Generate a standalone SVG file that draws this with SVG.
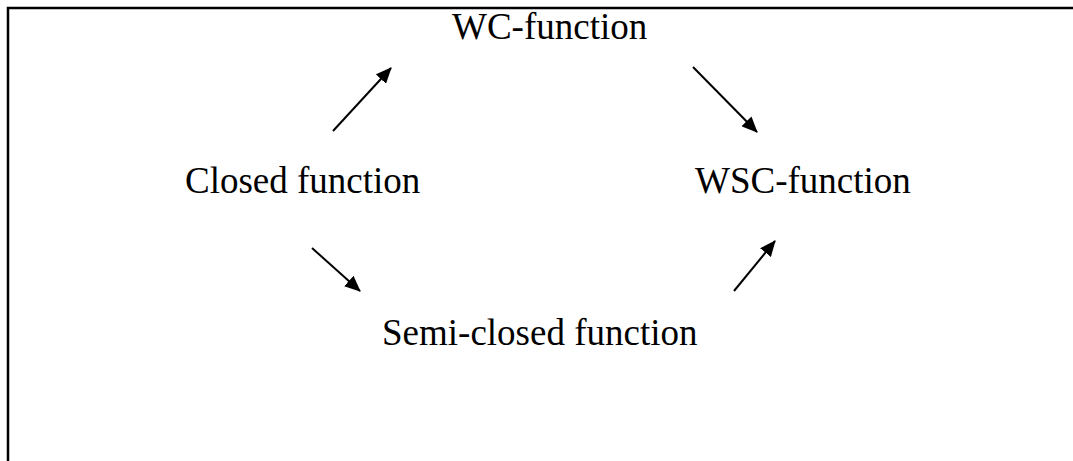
<svg xmlns="http://www.w3.org/2000/svg" width="1073" height="461" viewBox="0 0 1073 461">
<style>
.lbl{font-family:"Liberation Serif","Times New Roman",serif;font-size:37px;fill:#000}
.frame{fill:none;stroke:#000;stroke-width:2.5}
.edge{stroke:#000;stroke-width:2;fill:none}
</style>
<defs>
<marker id="ah" markerWidth="16" markerHeight="14" refX="15" refY="7" orient="auto" markerUnits="userSpaceOnUse">
<path d="M0,0 L16,7 L0,14 Z" fill="#000"/>
</marker>
</defs>
<rect width="1073" height="461" fill="#fff"/>
<path class="frame" d="M8,461 V8 H1073"/>
<g id="wc"><text class="lbl" x="452" y="39">WC-function</text></g>
<g id="closed"><text class="lbl" x="185" y="193">Closed function</text></g>
<g id="wsc"><text class="lbl" x="695" y="193">WSC-function</text></g>
<g id="semi"><text class="lbl" x="382" y="345">Semi-closed function</text></g>
<g id="connectors">
<line class="edge" x1="333" y1="131" x2="391" y2="68" marker-end="url(#ah)"/>
<line class="edge" x1="693" y1="67" x2="757" y2="132" marker-end="url(#ah)"/>
<line class="edge" x1="312" y1="248" x2="360" y2="291" marker-end="url(#ah)"/>
<line class="edge" x1="734" y1="291" x2="775" y2="241" marker-end="url(#ah)"/>
</g>
</svg>
